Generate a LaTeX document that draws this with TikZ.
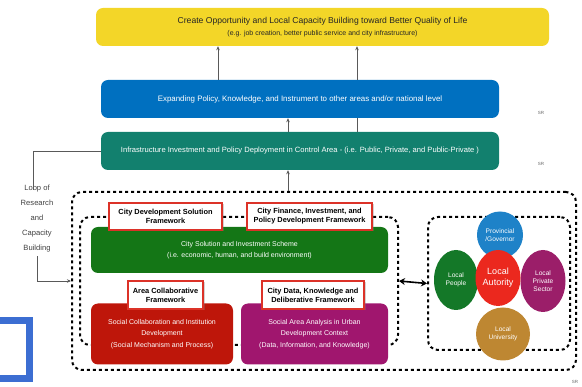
\documentclass[tikz,border=0pt]{standalone}
\usepackage{fontspec}
\setmainfont{Liberation Sans}
\setsansfont{Liberation Sans}
\usetikzlibrary{arrows.meta,shapes.geometric,shadows}

\definecolor{goalyellow}{RGB}{243,214,40}
\definecolor{expandblue}{RGB}{0,112,192}
\definecolor{infrateal}{RGB}{18,128,110}
\definecolor{schemegreen}{RGB}{20,118,22}
\definecolor{socialred}{RGB}{190,22,10}
\definecolor{areamagenta}{RGB}{160,22,110}
\definecolor{labelred}{RGB}{220,50,40}
\definecolor{govblue}{RGB}{30,130,200}
\definecolor{peoplegreen}{RGB}{20,120,40}
\definecolor{authred}{RGB}{235,40,30}
\definecolor{privatepurple}{RGB}{155,30,105}
\definecolor{unibrown}{RGB}{190,135,50}
\definecolor{cornerblue}{RGB}{60,110,210}

\begin{document}
\begin{tikzpicture}[x=1pt,y=-1pt,>=Stealth,font=\sffamily,
    bar/.style={rounded corners=7pt,text=white,align=center,inner sep=0pt,
      minimum width=398pt,minimum height=38pt,font=\fontsize{7.9}{9}\selectfont},
    block/.style={rounded corners=7pt,text=white,align=center,inner sep=0pt,
      font=\fontsize{7}{11.5}\selectfont},
    tag/.style={draw=labelred,line width=1.3pt,fill=white,align=center,inner sep=0pt,
      drop shadow={shadow xshift=1.5pt,shadow yshift=-1.5pt,opacity=0.35},
      font=\bfseries\fontsize{7.4}{9}\selectfont},
    dotbox/.style={draw,line width=2pt,dash pattern=on 3pt off 3pt,rounded corners=10pt,
      inner sep=0pt},
    actor/.style={ellipse,inner sep=0pt,text=white,align=center,
      font=\fontsize{6.6}{8}\selectfont},
    up/.style={->,draw=black!65,line width=0.8pt,>={Stealth[length=4pt,width=3.5pt]}},
    srtag/.style={font=\fontsize{4.5}{5}\selectfont,text=black!60}]

  \useasboundingbox (0,0) rectangle (582,387);

  % corner square, cut by the page edge
  \begin{scope}
    \clip (0,0) rectangle (582,387);
    \draw[cornerblue,line width=7pt] (-20,320.5) rectangle (29.5,378.5);
  \end{scope}

  % the three levels
  \node[bar,fill=goalyellow,text=black!85,minimum width=453pt] (goal) at (322.5,27)
    {\fontsize{8.6}{10}\selectfont Create Opportunity and Local Capacity Building toward Better Quality of Life\\[2.5pt]
     \fontsize{7}{9}\selectfont (e.g. job creation, better public service and city infrastructure)};
  \node[bar,fill=expandblue] (expand) at (300,99)
    {Expanding Policy, Knowledge, and Instrument to other areas and/or national level};
  \node[bar,fill=infrateal] (infra) at (300,151)
    {\fontsize{7.6}{9}\selectfont Infrastructure Investment and Policy Deployment in Control Area - (i.e. Public, Private, and Public-Private )};

  \node[srtag] (sr_1) at (541,113) {SR};
  \node[srtag] (sr_2) at (541,164) {SR};
  \node[srtag] (sr_3) at (575,382) {SR};

  % dashed frames
  \node[dotbox,minimum width=504pt,minimum height=178pt] (outer) at (324,281) {};
  \node[dotbox,minimum width=318pt,minimum height=128pt] (left) at (239,281) {};
  \node[dotbox,minimum width=142pt,minimum height=133pt] (right) at (499,283.5) {};

  % left frame content
  \node[block,fill=schemegreen,minimum width=297pt,minimum height=46pt] (scheme) at (239.5,250)
    {City Solution and Investment Scheme\\(i.e. economic, human, and build environment)};
  \node[block,fill=socialred,minimum width=142pt,minimum height=61pt] (social) at (162,334)
    {Social Collaboration and Institution\\Development\\(Social Mechanism and Process)};
  \node[block,fill=areamagenta,minimum width=147pt,minimum height=61pt] (area) at (314.5,334)
    {Social Area Analysis in Urban\\Development Context\\(Data, Information, and Knowledge)};

  \node[tag,minimum width=113pt,minimum height=27pt] (cdsf) at (165.5,216.5)
    {City Development Solution\\Framework};
  \node[tag,minimum width=125pt,minimum height=27pt] (cfipdf) at (309.5,216.5)
    {City Finance, Investment, and\\Policy Development Framework};
  \node[tag,minimum width=75pt,minimum height=28pt] (acf) at (165.5,295)
    {Area Collaborative\\Framework};
  \node[tag,minimum width=102pt,minimum height=28pt] (cdkdf) at (313,295)
    {City Data, Knowledge and\\Deliberative Framework};

  % stakeholders
  \node[actor,fill=govblue,minimum width=46pt,minimum height=47pt] (gov) at (500,235)
    {Provincial\\/Governor};
  \node[actor,fill=peoplegreen,minimum width=44pt,minimum height=60pt] (people) at (456,280)
    {Local\\People};
  \node[actor,fill=privatepurple,minimum width=45pt,minimum height=62pt] (private) at (543,281)
    {Local\\Private\\Sector};
  \node[actor,fill=unibrown,minimum width=54pt,minimum height=53pt] (uni) at (503,334)
    {Local\\University};
  \node[actor,fill=authred,minimum width=45pt,minimum height=56pt,
    font=\fontsize{9}{11}\selectfont] (auth) at (498,278) {Local\\Autority};

  % connectors
  \draw[up] ([xshift=-82pt]expand.north) -- ([xshift=-82pt]expand.north |- goal.south);
  \draw[up] ([xshift=57pt]expand.north) -- ([xshift=57pt]expand.north |- goal.south);
  \draw[up] ([xshift=-12pt]infra.north) -- ([xshift=-12pt]infra.north |- expand.south);
  \draw[draw=black!65,line width=0.8pt] ([xshift=57pt]infra.north) -- ([xshift=57pt]infra.north |- expand.south);
  \draw[up] ([xshift=-36pt]outer.north) -- ([xshift=-36pt]outer.north |- infra.south);
  \draw[<->,line width=1.6pt,>={Stealth[length=6pt,width=7pt]}] (left.east) -- (right.west);

  % loop back
  \node[align=center,font=\fontsize{7.6}{15}\selectfont,text=black!75] (loop) at (37,219)
    {Loop of\\Research\\and\\Capacity\\Building};
  \draw[draw=black!65,line width=0.8pt] (infra.west) -| ([xshift=-4pt,yshift=-8pt]loop.north);
  \draw[up] (loop.south) |- (outer.west);

\end{tikzpicture}
\end{document}
